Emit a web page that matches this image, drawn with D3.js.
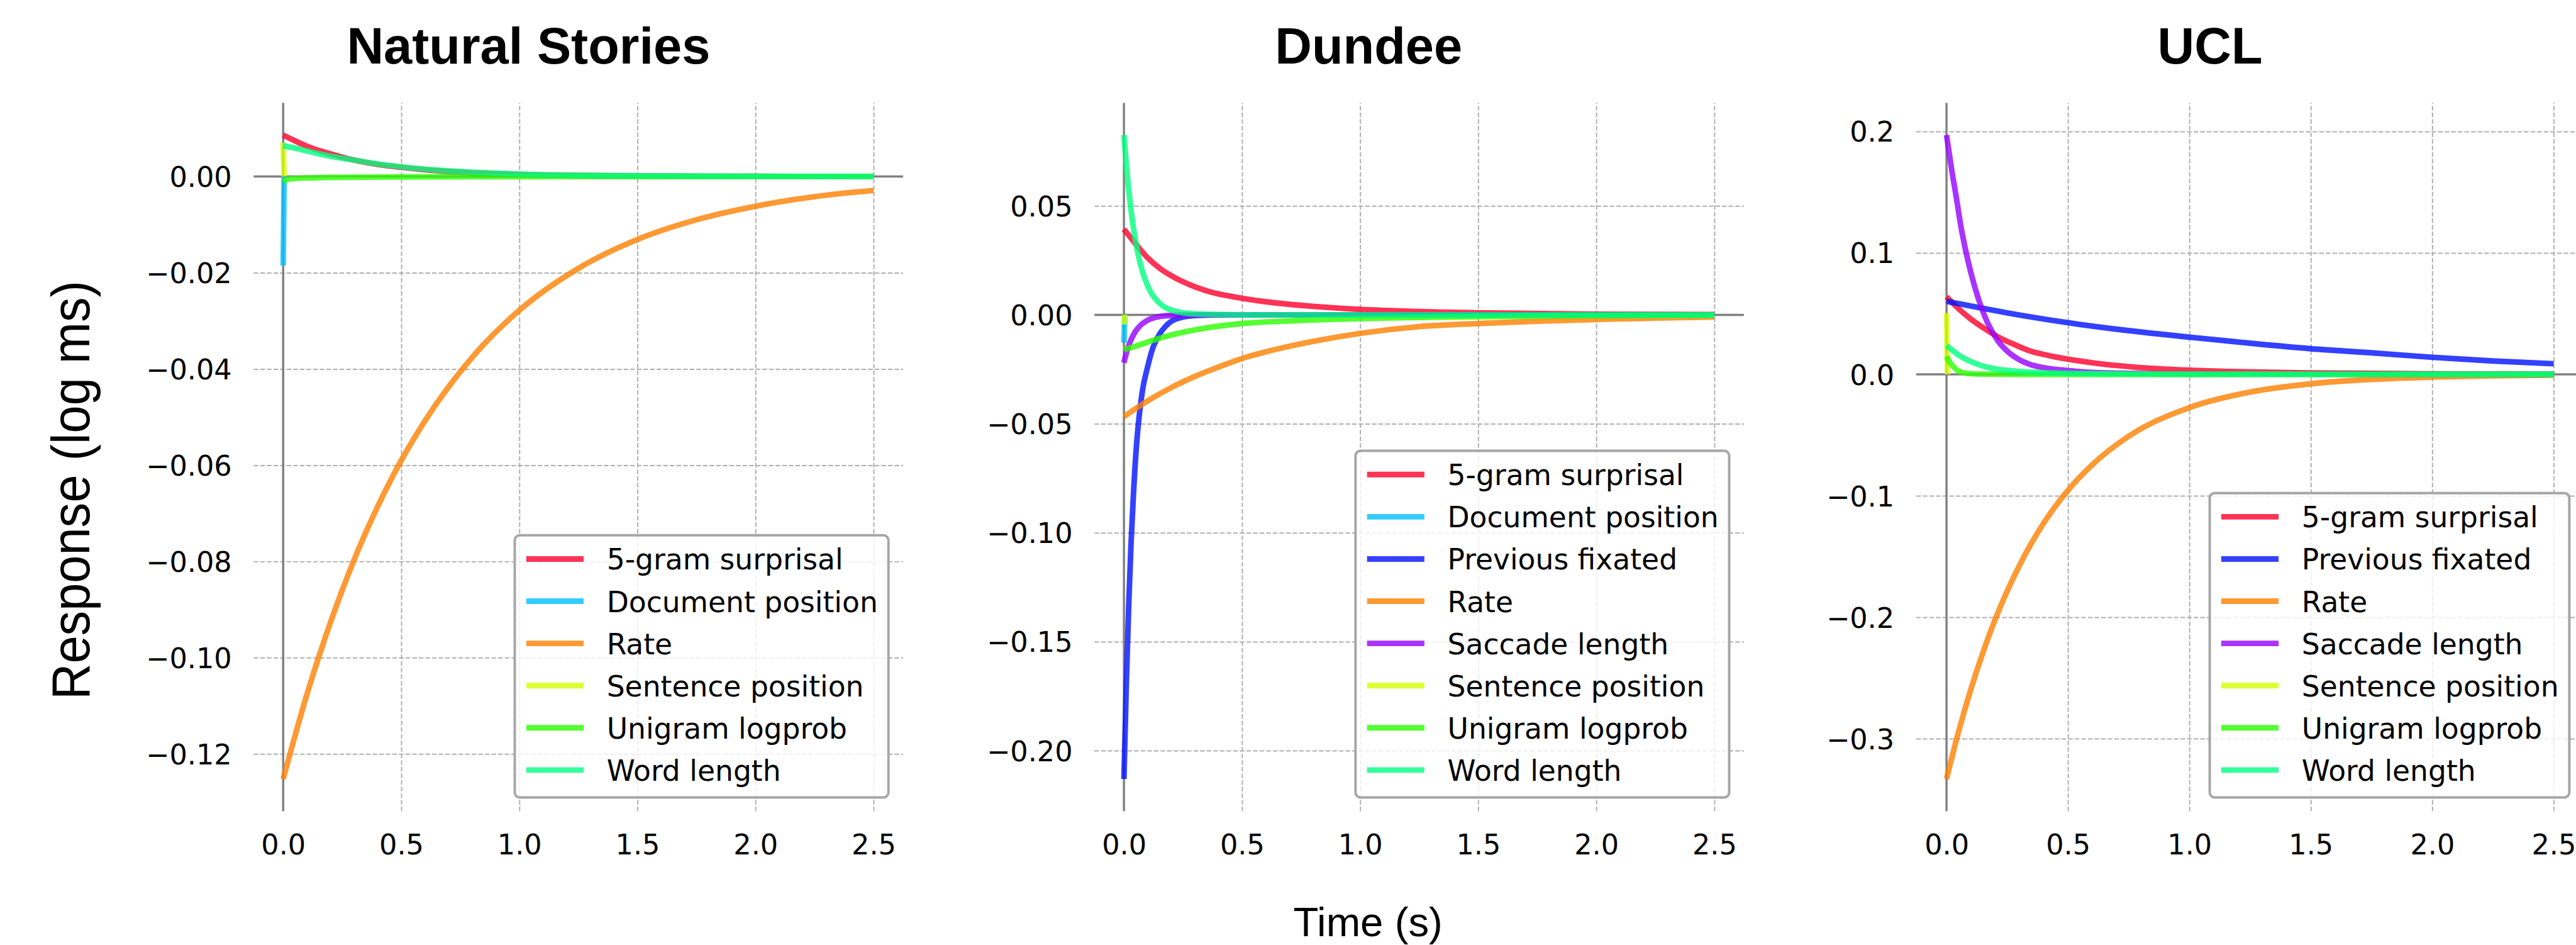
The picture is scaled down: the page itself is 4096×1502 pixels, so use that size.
<!DOCTYPE html>
<html>
<head>
<meta charset="utf-8">
<script src="https://cdn.jsdelivr.net/npm/d3@7"></script>
<style>
  html, body { margin: 0; padding: 0; background: #fff; overflow: hidden; }
</style>
</head>
<body>
<div id="chart"></div>
<script>
// ---- data ----
var timeTicks = [0, 0.5, 1.0, 1.5, 2.0, 2.5];

var variableNames = ["5-gram surprisal", "Document position", "Previous fixated", "Rate",
  "Saccade length", "Sentence position", "Unigram logprob", "Word length"];
var variableColors = ["#ff002b", "#00bfff", "#0011ff", "#ff8000",
  "#9500ff", "#d4ff00", "#2aff00", "#00ff80"];

var panelTitles = ["Natural Stories", "Dundee", "UCL"];
var nsYTicks = [-0.12, -0.10, -0.08, -0.06, -0.04, -0.02, 0.00];
var duYTicks = [-0.20, -0.15, -0.10, -0.05, 0.00, 0.05];
var ucYTicks = [-0.3, -0.2, -0.1, 0.0, 0.1, 0.2];

// Natural Stories  [time (s), response]
var nsSurprisal = [[0,0.0086],[0.05,0.0074],[0.1,0.0063],[0.2,0.0047],[0.3,0.0034],[0.4,0.0025],[0.5,0.0019],[0.6,0.0014],[0.8,0.00075],[1.0,0.0004],[1.25,0.0002],[1.5,0.0001],[2.0,0.00002],[2.5,0]];
var nsDocPosition = [[0,-0.0185],[0.004,0]];
var nsRate = [[0,-0.1252],[0.1,-0.1077],[0.2,-0.0927],[0.3,-0.0797],[0.4,-0.0686],[0.5,-0.0590],[0.6,-0.0508],[0.8,-0.0376],[1.0,-0.0278],[1.25,-0.0191],[1.5,-0.0131],[1.75,-0.0090],[2.0,-0.0062],[2.25,-0.0042],[2.5,-0.0029]];
var nsSentPosition = [[0,0.0070],[0.004,0]];
var nsUnigram = [[0,-0.00105],[0.02,-0.0006],[0.05,-0.0004],[0.1,-0.0003],[0.2,-0.0002],[0.5,-0.0001],[1.0,-0.00004],[1.5,-0.00001],[2.5,0]];
var nsWordLength = [[0,0.0064],[0.05,0.0059],[0.1,0.0053],[0.2,0.0042],[0.3,0.0034],[0.4,0.0026],[0.5,0.0020],[0.6,0.0015],[0.8,0.0009],[1.0,0.0005],[1.25,0.00025],[1.5,0.00012],[2.0,0.00003],[2.5,0]];

// Dundee
var duSurprisal = [[0,0.0393],[0.05,0.0325],[0.1,0.0262],[0.15,0.0215],[0.2,0.0180],[0.25,0.0152],[0.35,0.0110],[0.5,0.0076],[0.65,0.0054],[0.8,0.0039],[1.0,0.0025],[1.25,0.0015],[1.5,0.0009],[2.0,0.0003],[2.5,0.0001]];
var duDocPosition = [[0,-0.0128],[0.004,0]];
var duPrevFixated = [[0,-0.2130],[0.01,-0.170],[0.02,-0.134],[0.03,-0.105],[0.04,-0.083],[0.052,-0.0615],[0.065,-0.046],[0.078,-0.035],[0.1,-0.024],[0.122,-0.0153],[0.15,-0.0090],[0.175,-0.0054],[0.2,-0.0030],[0.25,-0.0010],[0.3,-0.0003],[0.4,0],[2.5,0]];
var duRate = [[0,-0.0467],[0.1,-0.0395],[0.2,-0.0334],[0.3,-0.0283],[0.4,-0.0240],[0.5,-0.0200],[0.6,-0.0170],[0.8,-0.0122],[1.0,-0.0085],[1.25,-0.0054],[1.5,-0.0040],[1.75,-0.0029],[2.0,-0.0021],[2.25,-0.0015],[2.5,-0.0010]];
var duSaccade = [[0,-0.0220],[0.01,-0.0177],[0.02,-0.0142],[0.035,-0.0103],[0.05,-0.0074],[0.07,-0.0048],[0.1,-0.0025],[0.15,-0.0008],[0.2,-0.0003],[0.3,0],[2.5,0]];
var duSentPosition = [[0,-0.0044],[0.004,0]];
var duUnigram = [[0,-0.0160],[0.05,-0.0144],[0.1,-0.0125],[0.175,-0.0100],[0.25,-0.0080],[0.35,-0.0060],[0.5,-0.0040],[0.7,-0.0028],[1.0,-0.0017],[1.25,-0.0012],[1.5,-0.0008],[2.0,-0.0004],[2.5,-0.0002]];
var duWordLength = [[0,0.0825],[0.02,0.0575],[0.04,0.0400],[0.06,0.0278],[0.08,0.0193],[0.1,0.0134],[0.15,0.0054],[0.2,0.0022],[0.3,0.0004],[0.5,0],[2.5,0]];

// UCL
var ucSurprisal = [[0,0.0639],[0.05,0.0540],[0.1,0.0455],[0.15,0.0385],[0.215,0.0305],[0.28,0.0245],[0.342,0.0194],[0.42,0.0155],[0.5,0.0125],[0.6,0.0095],[0.77,0.0060],[1.0,0.0034],[1.2,0.0022],[1.5,0.0012],[2.0,0.0004],[2.5,0.0001]];
var ucPrevFixated = [[0,0.0601],[0.25,0.0506],[0.5,0.0425],[0.75,0.0360],[1.0,0.0306],[1.25,0.0256],[1.5,0.0211],[1.75,0.0177],[2.0,0.0140],[2.25,0.0110],[2.5,0.0087]];
var ucRate = [[0,-0.3332],[0.05,-0.294],[0.1,-0.2595],[0.15,-0.229],[0.2,-0.202],[0.3,-0.1575],[0.4,-0.1225],[0.5,-0.0955],[0.6,-0.0745],[0.75,-0.0510],[1.0,-0.0274],[1.25,-0.0146],[1.5,-0.0078],[1.75,-0.0042],[2.0,-0.0023],[2.25,-0.0012],[2.5,-0.0007]];
var ucSaccade = [[0,0.197],[0.02,0.170],[0.04,0.146],[0.06,0.121],[0.08,0.101],[0.1,0.084],[0.13,0.063],[0.17,0.042],[0.21,0.028],[0.256,0.018],[0.3,0.012],[0.342,0.0083],[0.4,0.0055],[0.5,0.0031],[0.6,0.0016],[0.77,0.0008],[1.0,0.0002],[2.5,0]];
var ucSentPosition = [[0,0.0505],[0.004,0]];
var ucUnigram = [[0,0.0146],[0.01,0.0112],[0.02,0.0082],[0.03,0.0060],[0.044,0.0033],[0.06,0.0018],[0.087,0.0008],[0.12,0.0003],[0.2,0.0001],[0.3,0],[2.5,0]];
var ucWordLength = [[0,0.0236],[0.02,0.0205],[0.044,0.0168],[0.065,0.0140],[0.087,0.0117],[0.12,0.0088],[0.17,0.0057],[0.21,0.0042],[0.256,0.0031],[0.33,0.0019],[0.427,0.0012],[0.6,0.0005],[1.0,0.0001],[2.5,0]];

// ---- layout (reference pixels, scaled at the end) ----
var S = 0.991;
var plotTop = 165, plotBottom = 1301;
var tickFont = 45, legendFont = 46;

var panels = [
  { title: panelTitles[0], titleX: 848, left: 407, right: 1449, yTicks: nsYTicks, fmt: d3.format(".2f"),
    series: [["5-gram surprisal", nsSurprisal], ["Document position", nsDocPosition], ["Rate", nsRate],
             ["Sentence position", nsSentPosition], ["Unigram logprob", nsUnigram], ["Word length", nsWordLength]] },
  { title: panelTitles[1], titleX: 2196, left: 1756, right: 2798, yTicks: duYTicks, fmt: d3.format(".2f"),
    series: [["5-gram surprisal", duSurprisal], ["Document position", duDocPosition], ["Previous fixated", duPrevFixated],
             ["Rate", duRate], ["Saccade length", duSaccade], ["Sentence position", duSentPosition],
             ["Unigram logprob", duUnigram], ["Word length", duWordLength]] },
  { title: panelTitles[2], titleX: 3546, left: 3074.5, right: 4146, yTicks: ucYTicks, fmt: d3.format(".1f"),
    series: [["5-gram surprisal", ucSurprisal], ["Previous fixated", ucPrevFixated], ["Rate", ucRate],
             ["Saccade length", ucSaccade], ["Sentence position", ucSentPosition],
             ["Unigram logprob", ucUnigram], ["Word length", ucWordLength]] }
];

var colorOf = d3.scaleOrdinal().domain(variableNames).range(variableColors);

var svg = d3.select("#chart").append("svg")
  .attr("width", 4096).attr("height", 1502);
var root = svg.append("g").attr("transform", "scale(" + S + ")");

// shared x domain: data span plus 5% margins
var tExt = d3.extent(timeTicks);
var tPad = (tExt[1] - tExt[0]) * 0.05;

panels.forEach(function(p) {
  var g = root.append("g");

  var x = d3.scaleLinear().domain([tExt[0] - tPad, tExt[1] + tPad]).range([p.left, p.right]);
  var vals = [];
  p.series.forEach(function(s) { s[1].forEach(function(d) { vals.push(d[1]); }); });
  var vExt = d3.extent(vals);
  var vPad = (vExt[1] - vExt[0]) * 0.05;
  var y = d3.scaleLinear().domain([vExt[0] - vPad, vExt[1] + vPad]).range([plotBottom, plotTop]);

  // dashed grid
  var gridY = g.append("g").attr("transform", "translate(" + p.left + ",0)")
    .call(d3.axisLeft(y).tickValues(p.yTicks.filter(function(v) { return v !== 0; }))
      .tickSize(-(p.right - p.left)).tickFormat(""));
  var gridX = g.append("g").attr("transform", "translate(0," + plotBottom + ")")
    .call(d3.axisBottom(x).tickValues(timeTicks.filter(function(v) { return v !== 0; }))
      .tickSize(-(plotBottom - plotTop)).tickFormat(""));
  [gridY, gridX].forEach(function(a) {
    a.select(".domain").remove();
    a.selectAll("line").attr("stroke", "#b0b0b0").attr("stroke-width", 2)
      .attr("stroke-dasharray", "7.4 3.2");
  });

  // solid zero lines
  g.append("line").attr("x1", p.left).attr("x2", p.right)
    .attr("y1", y(0)).attr("y2", y(0))
    .attr("stroke", "#808080").attr("stroke-width", 3.5);
  g.append("line").attr("x1", x(0)).attr("x2", x(0))
    .attr("y1", plotTop).attr("y2", plotBottom)
    .attr("stroke", "#808080").attr("stroke-width", 3.5);

  // tick labels
  var yAx = g.append("g").attr("transform", "translate(" + p.left + ",0)")
    .call(d3.axisLeft(y).tickValues(p.yTicks).tickFormat(p.fmt).tickSize(0).tickPadding(35));
  var xAx = g.append("g").attr("transform", "translate(0," + plotBottom + ")")
    .call(d3.axisBottom(x).tickValues(timeTicks).tickFormat(d3.format(".1f")).tickSize(0).tickPadding(37));
  [yAx, xAx].forEach(function(a) {
    a.select(".domain").remove();
    a.selectAll("text").attr("font-family", "DejaVu Sans").attr("font-size", tickFont).attr("fill", "#000");
  });
  yAx.selectAll("text").attr("dy", "0.36em");
  xAx.selectAll("text").attr("dy", "0.71em");

  // curves
  var line = d3.line()
    .x(function(d) { return x(d[0]); })
    .y(function(d) { return y(d[1]); })
    .curve(d3.curveMonotoneX);
  p.series.forEach(function(s) {
    g.append("path").datum(s[1])
      .attr("d", line)
      .attr("fill", "none")
      .attr("stroke", colorOf(s[0]))
      .attr("stroke-opacity", 0.8)
      .attr("stroke-width", 9)
      .attr("stroke-linejoin", "round");
  });

  // title
  g.append("text").attr("x", p.titleX).attr("y", 102)
    .attr("text-anchor", "middle")
    .attr("font-family", "Liberation Sans, Arial, sans-serif")
    .attr("font-weight", "bold").attr("font-size", 82)
    .text(p.title);

  // legend, lower right
  var rowH = 67.7;
  var boxRight = p.right - 23.5, boxBottom = 1279;
  var lastRow = boxBottom - 44;
  var firstRow = lastRow - rowH * (p.series.length - 1);
  var boxTop = firstRow - 38;
  var lg = g.append("g");
  var frame = lg.append("rect");
  var texts = [];
  p.series.forEach(function(s, i) {
    var cy = firstRow + i * rowH;
    texts.push(lg.append("text")
      .attr("y", cy + 0.374 * legendFont)
      .attr("font-family", "DejaVu Sans").attr("font-size", legendFont)
      .attr("fill", "#000").text(s[0]));
  });
  var maxW = d3.max(texts, function(t) { return t.node().getComputedTextLength(); });
  var boxLeft = boxRight - (18.5 + 92 + 37 + maxW + 17);
  frame.attr("x", boxLeft).attr("y", boxTop)
    .attr("width", boxRight - boxLeft).attr("height", boxBottom - boxTop)
    .attr("rx", 8).attr("ry", 8)
    .attr("fill", "#fff").attr("fill-opacity", 0.8)
    .attr("stroke", "#a6a6a6").attr("stroke-width", 4);
  p.series.forEach(function(s, i) {
    var cy = firstRow + i * rowH;
    lg.append("line")
      .attr("x1", boxLeft + 18.5).attr("x2", boxLeft + 18.5 + 92)
      .attr("y1", cy).attr("y2", cy)
      .attr("stroke", colorOf(s[0])).attr("stroke-opacity", 0.8).attr("stroke-width", 9);
    texts[i].attr("x", boxLeft + 18.5 + 92 + 37);
  });
});

// shared axis labels
root.append("text")
  .attr("x", 2195).attr("y", 1502)
  .attr("text-anchor", "middle")
  .attr("font-family", "Liberation Sans, Arial, sans-serif")
  .attr("font-size", 66)
  .text("Time (s)");

root.append("text")
  .attr("transform", "translate(143,786) rotate(-90)")
  .attr("text-anchor", "middle")
  .attr("font-family", "Liberation Sans, Arial, sans-serif")
  .attr("font-size", 86)
  .attr("textLength", 672).attr("lengthAdjust", "spacingAndGlyphs")
  .text("Response (log ms)");
</script>
</body>
</html>
